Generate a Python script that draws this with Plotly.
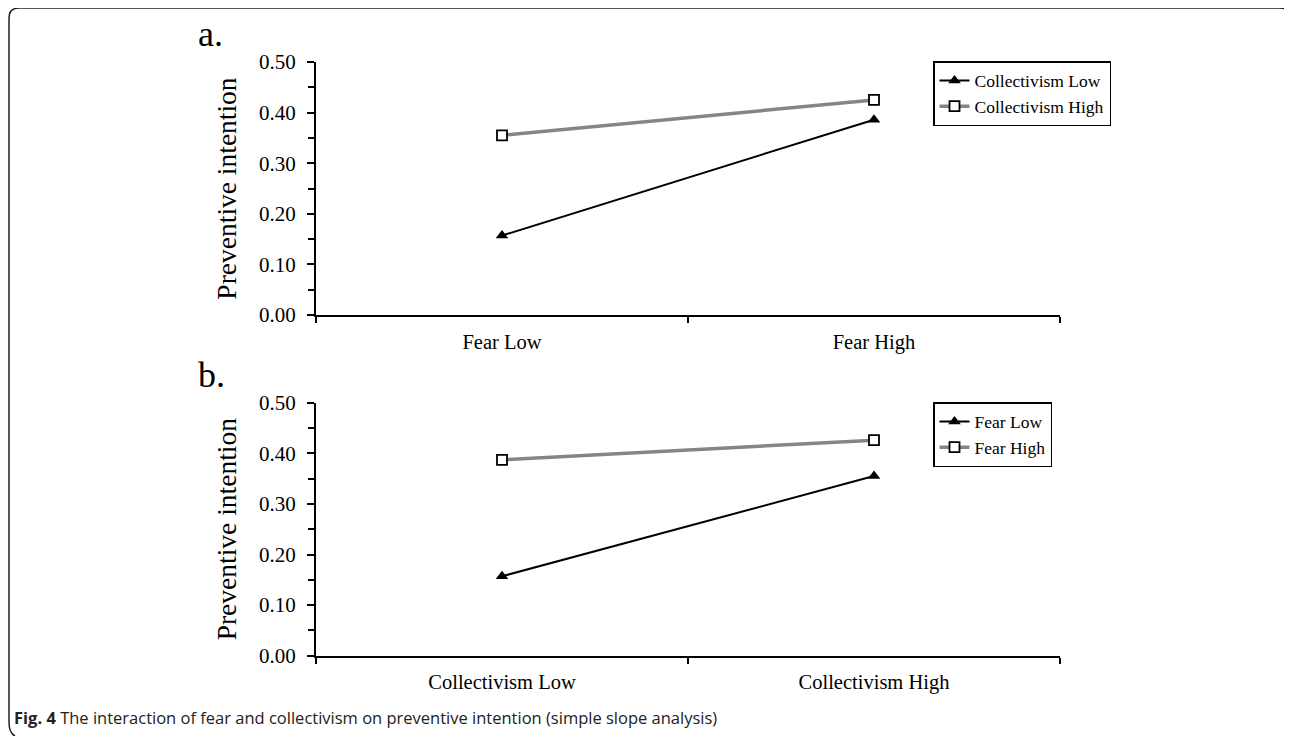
import plotly.graph_objects as go

W, H = 1292, 736
OFF = 8  # page offset of the figure in the browser

# Data
fear_levels = ["Fear Low", "Fear High"]
coll_levels = ["Collectivism Low", "Collectivism High"]

a_coll_low = [0.157, 0.386]
a_coll_high = [0.355, 0.425]

b_fear_low = [0.157, 0.355]
b_fear_high = [0.387, 0.426]

ytick_vals = [0.0, 0.1, 0.2, 0.3, 0.4, 0.5]

serif = "Liberation Serif, Times New Roman, serif"


def px(x):
    return (x - OFF) / W


def py(y):
    return 1 - (y - OFF) / H


fig = go.Figure()

black_line = dict(color="black", width=2)
gray_line = dict(color="#858585", width=3.5)
tri = dict(symbol="triangle-up", size=11, color="black")
sq = dict(symbol="square", size=10, color="white", line=dict(color="black", width=1.8))

fig.add_trace(go.Scatter(x=fear_levels, y=a_coll_low, mode="lines+markers", name="Collectivism Low",
                         line=black_line, marker=tri, xaxis="x", yaxis="y", legend="legend"))
fig.add_trace(go.Scatter(x=fear_levels, y=a_coll_high, mode="lines+markers", name="Collectivism High",
                         line=gray_line, marker=sq, xaxis="x", yaxis="y", legend="legend"))
fig.add_trace(go.Scatter(x=coll_levels, y=b_fear_low, mode="lines+markers", name="Fear Low",
                         line=black_line, marker=tri, xaxis="x2", yaxis="y2", legend="legend2"))
fig.add_trace(go.Scatter(x=coll_levels, y=b_fear_high, mode="lines+markers", name="Fear High",
                         line=gray_line, marker=sq, xaxis="x2", yaxis="y2", legend="legend2"))


def xaxis_cfg(anchor):
    return dict(domain=[px(316), px(1060)], anchor=anchor, type="category", range=[-0.5, 1.5],
                automargin=False,
                showline=True, linecolor="black", linewidth=2, ticks="outside",
                tickson="boundaries", ticklen=6, tickwidth=1.5, tickcolor="black",
                ticklabelstandoff=7,
                showgrid=False, zeroline=False,
                tickfont=dict(family=serif, size=20.5, color="black"))


def yaxis_cfg(anchor, top, bottom):
    return dict(domain=[py(bottom), py(top)], anchor=anchor, range=[0, 0.5],
                automargin=False,
                tickvals=ytick_vals, tickformat=".2f",
                showline=True, linecolor="black", linewidth=2, ticks="outside",
                ticklen=7, tickwidth=1.5, tickcolor="black",
                ticklabelstandoff=7,
                minor=dict(dtick=0.05, tick0=0, ticks="outside", ticklen=6, tickwidth=1.5, tickcolor="black"),
                showgrid=False, zeroline=False,
                tickfont=dict(family=serif, size=21, color="black"),
                title=dict(text="Preventive intention", standoff=14,
                           font=dict(family=serif, size=27.5, color="black")))


legend_common = dict(xanchor="left", yanchor="top",
                     bordercolor="black", borderwidth=1.5, bgcolor="white",
                     font=dict(family=serif, size=17.5, color="black"),
                     itemwidth=30, tracegroupgap=0)

fig.update_layout(
    width=W, height=H,
    template="none",
    margin=dict(l=0, r=0, t=0, b=0, autoexpand=False),
    paper_bgcolor="white", plot_bgcolor="white",
    xaxis=xaxis_cfg("y"),
    yaxis=yaxis_cfg("x", 62, 315),
    xaxis2=xaxis_cfg("y2"),
    yaxis2=yaxis_cfg("x2", 402.7, 655.7),
    legend=dict(x=px(933), y=py(61), **legend_common),
    legend2=dict(x=px(933), y=py(402), **legend_common),
    showlegend=True,
)

# Panel labels
fig.add_annotation(x=px(196), y=py(34), xref="paper", yref="paper", text="a.",
                   showarrow=False, xanchor="left", yanchor="middle",
                   font=dict(family=serif, size=36, color="black"))
fig.add_annotation(x=px(196), y=py(375), xref="paper", yref="paper", text="b.",
                   showarrow=False, xanchor="left", yanchor="middle",
                   font=dict(family=serif, size=36, color="black"))

# Caption
fig.add_annotation(x=px(12), y=py(717), xref="paper", yref="paper",
                   text="<b>Fig. 4</b> The interaction of fear and collectivism on preventive intention (simple slope analysis)",
                   showarrow=False, xanchor="left", yanchor="middle",
                   font=dict(family="Open Sans, sans-serif", size=16.5, color="#222222"))

# Frame (rounded corners)
r = 10
path = (f"M {px(9)},{py(722)} L {px(9)},{py(8 + r)} "
        f"Q {px(9)},{py(8)} {px(9 + r)},{py(8)} "
        f"L {px(1280)},{py(8)} Q {px(1288)},{py(8)} {px(1291)},{py(14)}")
fig.add_shape(type="path", path=path, xref="paper", yref="paper",
              line=dict(color="#222222", width=1.5))
path2 = f"M {px(9)},{py(722)} Q {px(9)},{py(733)} {px(15)},{py(736)}"
fig.add_shape(type="path", path=path2, xref="paper", yref="paper",
              line=dict(color="#222222", width=1.5))

fig.write_html("out.html")
